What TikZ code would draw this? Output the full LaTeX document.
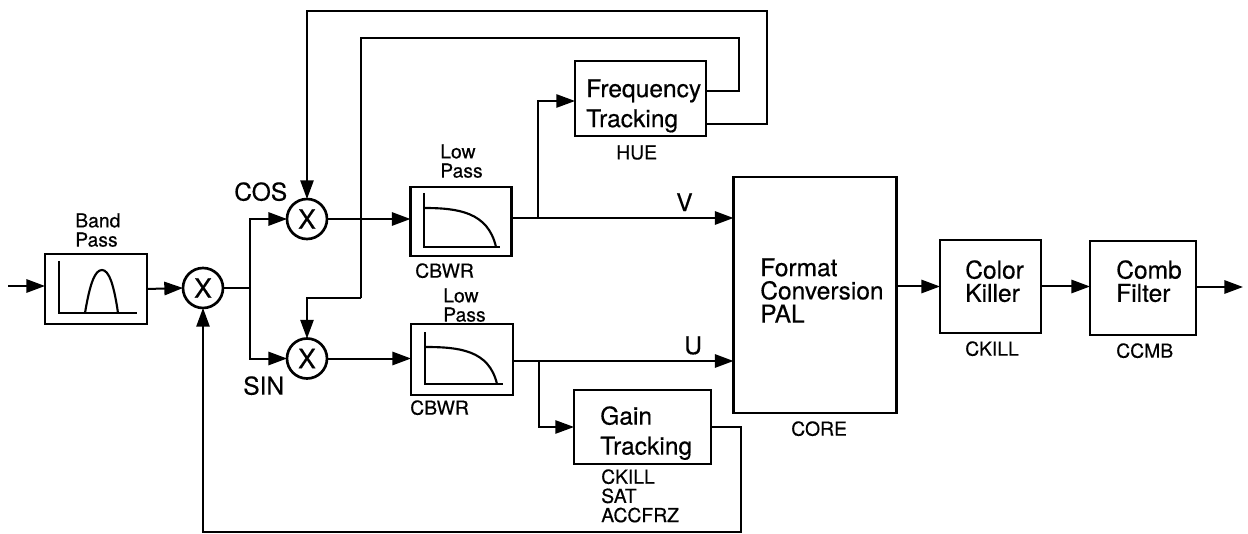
\documentclass[tikz,border=0pt]{standalone}
\usepackage{fontspec}
\setmainfont{TeX Gyre Heros}[FakeBold=0.4]
\usetikzlibrary{arrows.meta}
\tikzset{
  sized/.style 2 args={minimum width=#1*0.75pt,minimum height=#2*0.75pt},
  block/.style={draw=black,line width=2.2pt,inner sep=0pt,outer sep=0pt},
  mixer/.style={circle,draw=black,line width=2pt,minimum size=30pt,inner sep=0pt,outer sep=0pt,font=\fontsize{20}{20}\selectfont},
  big/.style={inner sep=0pt,anchor=north west,align=left},
  bigA/.style={big,font=\fontsize{18.4}{22.5}\selectfont},
  bigB/.style={big,font=\fontsize{18.4}{17.4}\selectfont},
  small/.style={inner sep=0pt,anchor=north west,align=left,font=\fontsize{14.5}{14.4}\selectfont},
  conn/.style={line width=1.5pt,draw=black},
  arr/.style={conn,-{Triangle[length=14pt,width=10pt]}},
  thinconn/.style={line width=1.2pt,draw=black},
  thinarr/.style={thinconn,-{Triangle[length=14pt,width=10pt]}},
  plot/.style={line width=1.6pt,draw=black}
}
\begin{document}
\begin{tikzpicture}[x=0.75pt,y=-0.75pt]
\useasboundingbox (0,0) rectangle (1248,534);
% blocks
\node[block,sized={102}{70}] (bp) at (96,289) {};
\node[block,sized={101}{69}] (lpa) at (461,221.5) {};
\node[block,sized={102}{71}] (lpb) at (462,359.5) {};
\node[block,sized={131}{75}] (freq) at (640.5,98.5) {};
\node[block,sized={137}{74}] (gain) at (642.5,427) {};
\node[block,sized={163}{236}] (core) at (815,295) {};
\node[block,sized={101}{93}] (ck) at (990.5,286.5) {};
\node[block,sized={106}{94}] (cf) at (1143,288) {};
% mixers
\node[mixer] (m0) at (203,288) {X};
\node[mixer] (mc) at (307,219) {X};
\node[mixer] (ms) at (307,358.5) {X};
% plots inside filters
\draw[plot] (59,261) -- (59,313) -- (137,313);
\draw[plot] (85,313) .. controls (90,283) and (95,270) .. (102,270) .. controls (109,270) and (114,285) .. (118,313);
\draw[plot] (424,193) -- (424,247) -- (500,247);
\draw[plot] (424,208) .. controls (458,208) and (488,212) .. (496,247);
\draw[plot] (425,332) -- (425,384) -- (503,384);
\draw[plot] (425,347) .. controls (459,347) and (489,350) .. (497,384);
% coordinates
\coordinate (in) at (8,286);
\coordinate (j0) at (250,288);
\coordinate (jv) at (538,218);
\coordinate (ju) at (539,361);
\coordinate (fa) at (739,91);
\coordinate (fb) at (739,38);
\coordinate (fc) at (361,38);
\coordinate (fd) at (361,298);
\coordinate (ga) at (767,124);
\coordinate (gb) at (767,11);
\coordinate (ha) at (741,427);
\coordinate (hb) at (741,532);
\coordinate (out) at (1243,287);
% connectors
\draw[arr] (in) -- (in -| bp.west);
\draw[arr] (bp.east) -- (m0.west);
\draw[conn] (m0.east) -- (j0);
\draw[arr] (j0) |- (mc.west);
\draw[arr] (j0) |- (ms.west);
\draw[arr] (mc.east) -- (mc.east -| lpa.west);
\draw[arr] (ms.east) -- (ms.east -| lpb.west);
\draw[arr] (lpa.east |- jv) -- (jv -| core.west);
\draw[arr] (lpb.east |- ju) -- (ju -| core.west);
\draw[thinarr] (jv) |- (freq.west |- 0,101);
\draw[thinarr] (ju) |- (gain.west |- 0,427);
\draw[thinconn] (freq.east |- fa) -- (fa) -- (fb) -- (fc) -- (fd);
\draw[thinarr] (fd) -| (ms.north);
\draw[thinarr] (freq.east |- ga) -- (ga) -- (gb) -| (mc.north);
\draw[thinarr] (gain.east |- ha) -- (ha) -- (hb) -| (m0.south);
\draw[arr] (core.east |- ck.west) -- (ck.west);
\draw[arr] (ck.east) -- (ck.east -| cf.west);
\draw[arr] (cf.east |- out) -- (out);
% block texts
\node[bigA] (tfreq) at (586,79) {Frequency\\Tracking};
\node[bigA] (tgain) at (600,406) {Gain\\Tracking};
\node[bigB] (tcore) at (760,258) {Format\\Conversion\\PAL};
\node[bigB] (tck) at (965,260) {Color\\Killer};
\node[bigB] (tcf) at (1116,260) {Comb\\Filter};
% labels
\node[small] (tbp) at (75,213) {Band\\Pass};
\node[small] (tlpa) at (440,144) {Low\\Pass};
\node[small] (tlpb) at (443,288) {Low\\Pass};
\node[small] (tcba) at (415,263) {CBWR};
\node[small] (tcbb) at (410,400) {CBWR};
\node[small] (thue) at (616,145) {HUE};
\node[small] (tkill) at (601,469) {CKILL\\SAT\\ACCFRZ};
\node[small] (tcr) at (791,421) {CORE};
\node[small] (tckl) at (965,341) {CKILL};
\node[small] (tcmb) at (1116,343) {CCMB};
\node[bigA] (tcos) at (234,182) {COS};
\node[bigA] (tsin) at (243,376) {SIN};
\node[bigA] (tv) at (676,193) {V};
\node[bigA] (tu) at (684,336) {U};
\end{tikzpicture}
\end{document}
